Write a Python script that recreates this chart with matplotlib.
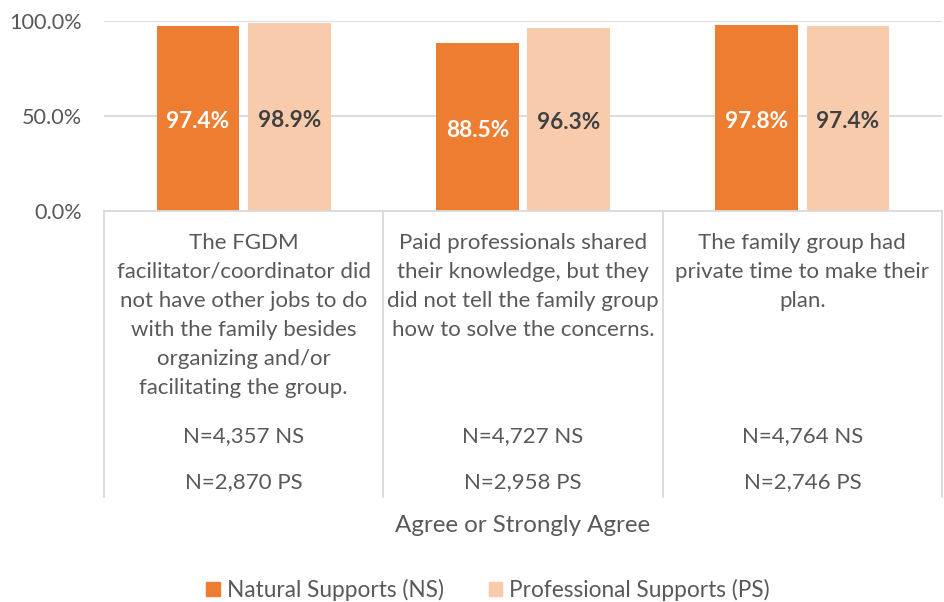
import matplotlib
matplotlib.use("Agg")
import matplotlib.pyplot as plt
from matplotlib.patches import Patch
import numpy as np

categories = [
    "The FGDM\nfacilitator/coordinator did\nnot have other jobs to do\nwith the family besides\norganizing and/or\nfacilitating the group.",
    "Paid professionals shared\ntheir knowledge, but they\ndid not tell the family group\nhow to solve the concerns.",
    "The family group had\nprivate time to make their\nplan.",
]
ns_values = [0.974, 0.885, 0.978]
ps_values = [0.989, 0.963, 0.974]
ns_counts = ["N=4,357 NS", "N=4,727 NS", "N=4,764 NS"]
ps_counts = ["N=2,870 PS", "N=2,958 PS", "N=2,746 PS"]
series_names = ["Natural Supports (NS)", "Professional Supports (PS)"]
yticks = [0.0, 0.5, 1.0]
xlabel = "Agree or Strongly Agree"

NS_COLOR = "#ED7D31"
PS_COLOR = "#F8CBAD"
TEXT = "#595959"
GRID = "#D9D9D9"
FONT = "Lato"

W, H = 945, 602
fig = plt.figure(figsize=(W / 100, H / 100), dpi=100)
y0_px, y1_px = 211, 21
x0_px, x1_px = 104, 942
ax = fig.add_axes([x0_px / W, 1 - y0_px / H, (x1_px - x0_px) / W, (y0_px - y1_px) / H])
ax.set_xlim(0, len(categories))
ax.set_ylim(0, 1)
for s in ax.spines.values():
    s.set_visible(False)
ax.set_xticks([])
ax.set_yticks(yticks)
ax.set_yticklabels([f"{v*100:.1f}%" for v in yticks], fontsize=15.6, color=TEXT, family=FONT)
ax.tick_params(axis="y", length=0, pad=16)
for v in yticks[1:]:
    ax.axhline(v, color=GRID, lw=1.3, zorder=0)

x = np.arange(len(categories)) + 0.5
bw = 0.297
gap = 0.03
ax.bar(x - bw / 2 - gap / 2, ns_values, bw, color=NS_COLOR, zorder=2)
ax.bar(x + bw / 2 + gap / 2, ps_values, bw, color=PS_COLOR, zorder=2)
for xi, v in zip(x, ns_values):
    ax.annotate(f"{v*100:.1f}%", (xi - bw / 2 - gap / 2, v / 2), xytext=(0, -2.5),
                textcoords="offset points", ha="center", va="center",
                color="white", fontsize=16.3, fontweight="bold", family=FONT)
for xi, v in zip(x, ps_values):
    ax.annotate(f"{v*100:.1f}%", (xi + bw / 2 + gap / 2, v / 2), xytext=(0, -2.5),
                textcoords="offset points", ha="center", va="center",
                color="#404040", fontsize=16.3, fontweight="bold", family=FONT)

# table below axis
scale = y0_px - y1_px
def py(p):
    return (y0_px - p) / scale

tr = ax.get_xaxis_transform()
ax.plot([0, len(categories)], [0, 0], transform=tr, color=GRID, lw=1.3, clip_on=False, zorder=3)
for b in range(len(categories) + 1):
    ax.plot([b, b], [0, py(497)], transform=tr, color=GRID, lw=1.3, clip_on=False)

LBL = 16.0
for xi, cat, n1, n2 in zip(x, categories, ns_counts, ps_counts):
    for j, line in enumerate(cat.split("\n")):
        ax.text(xi, py(243 + 29 * j), line, transform=tr, ha="center", va="center",
                fontsize=LBL, color=TEXT, family=FONT)
    ax.text(xi, py(436), n1, transform=tr, ha="center", va="center", fontsize=LBL, color=TEXT, family=FONT)
    ax.text(xi, py(482), n2, transform=tr, ha="center", va="center", fontsize=LBL, color=TEXT, family=FONT)

fig.text(523 / W, 1 - 525 / H, xlabel, ha="center", va="center", fontsize=17.4, color=TEXT, family=FONT)

handles = [Patch(color=NS_COLOR), Patch(color=PS_COLOR)]
leg = fig.legend(handles, series_names, loc="center", bbox_to_anchor=(488 / W, 1 - 590 / H),
                 ncol=2, frameon=False, prop={"family": FONT, "size": 16.3},
                 handlelength=0.6, handleheight=0.6, handletextpad=0.3, columnspacing=2.0)
for t in leg.get_texts():
    t.set_color(TEXT)

fig.savefig("out.png", dpi=100)
